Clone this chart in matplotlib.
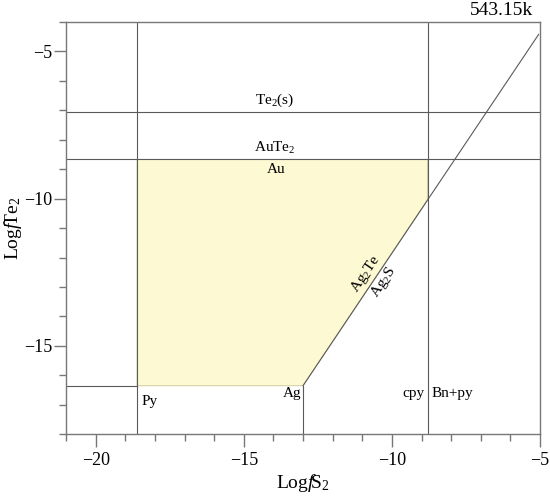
import matplotlib
matplotlib.use('Agg')
import matplotlib.pyplot as plt
from matplotlib.ticker import MultipleLocator

plt.rcParams['font.family'] = ['Liberation Serif', 'DejaVu Serif']
plt.rcParams['mathtext.fontset'] = 'custom'
plt.rcParams['mathtext.rm'] = 'Liberation Serif'
plt.rcParams['mathtext.it'] = 'Liberation Serif:italic'

# boundaries (log fS2, log fTe2)
x_py = -18.6        # py / po boundary
x_cpy = -8.8        # cpy / Bn+py boundary
x_ag = -13.0        # Ag vertical
y_te2s = -7.05      # Te2(s) line
y_aute2 = -8.67     # AuTe2 / Au line
y_ag = -16.35       # Ag line
slope = 1.5         # Ag2Te / Ag2S line

xlim = (-21, -5)
ylim = (-18, -4)

# gold field polygon
diag_y_at_cpy = y_ag + slope * (x_cpy - x_ag)
field_x = [x_py, x_cpy, x_cpy, x_ag, x_py]
field_y = [y_aute2, y_aute2, diag_y_at_cpy, y_ag, y_ag]

fig = plt.figure(figsize=(5.5, 4.98), dpi=100)
ax = fig.add_axes([0.12, 0.128, 0.862, 0.828])

lc = '#5a5a5a'
lw = 0.8

ax.fill(field_x, field_y, color='#fdf9d2', ec='#d6d2a8', lw=0.8, zorder=1)

ax.axhline(y_te2s, color=lc, lw=lw, zorder=2)
ax.axhline(y_aute2, color=lc, lw=lw, zorder=2)
ax.axvline(x_py, color=lc, lw=lw, zorder=2)
ax.axvline(x_cpy, color=lc, lw=lw, zorder=2)
ax.plot([xlim[0], x_py], [y_ag, y_ag], color=lc, lw=lw, zorder=2)
ax.plot([x_ag, x_ag], [ylim[0], y_ag], color=lc, lw=lw, zorder=2)
x_end = -5.05
ax.plot([x_ag, x_end], [y_ag, y_ag + slope * (x_end - x_ag)], color=lc, lw=lw, zorder=2)

fs = 11
ax.text(-13.95, -6.65, 'Te$_2$(s)', fontsize=fs, ha='center', va='center')
ax.text(-13.95, -8.28, 'AuTe$_2$', fontsize=fs, ha='center', va='center')
ax.text(-13.9, -9.0, 'Au', fontsize=fs, ha='center', va='center')
ax.text(-10.88, -12.55, 'Ag$_2$Te', fontsize=fs, ha='center', va='center', rotation=56)
ax.text(-10.27, -12.85, 'Ag$_2$S', fontsize=fs, ha='center', va='center', rotation=56)
ax.text(-18.45, -16.9, 'Py', fontsize=fs, ha='left', va='center')
ax.text(-13.05, -16.6, 'Ag', fontsize=fs, ha='right', va='center')
ax.text(-8.9, -16.6, 'cpy', fontsize=fs, ha='right', va='center')
ax.text(-8.65, -16.6, 'Bn+py', fontsize=fs, ha='left', va='center')
ax.text(0.985, 1.008, '543.15k', fontsize=14, ha='right', va='bottom', transform=ax.transAxes)

ax.set_xlim(*xlim)
ax.set_ylim(*ylim)
ax.xaxis.set_major_locator(MultipleLocator(5))
ax.yaxis.set_major_locator(MultipleLocator(5))
ax.xaxis.set_minor_locator(MultipleLocator(1))
ax.yaxis.set_minor_locator(MultipleLocator(1))

for s in ax.spines.values():
    s.set_color('#777777')
    s.set_linewidth(1.0)
ax.tick_params(which='major', length=9, width=1, color='#777777', labelsize=13)
ax.tick_params(which='minor', length=5, width=1, color='#777777')
ax.tick_params(axis='y', which='major', pad=1)
ax.tick_params(axis='x', which='major', pad=4)

ax.set_xlabel('Log$\\it{f}\\!$S$_2$', fontsize=14, labelpad=2)
ax.set_ylabel('Log$\\it{f}\\!$Te$_2$', fontsize=14, labelpad=0)

fig.savefig('out.png', dpi=100)
